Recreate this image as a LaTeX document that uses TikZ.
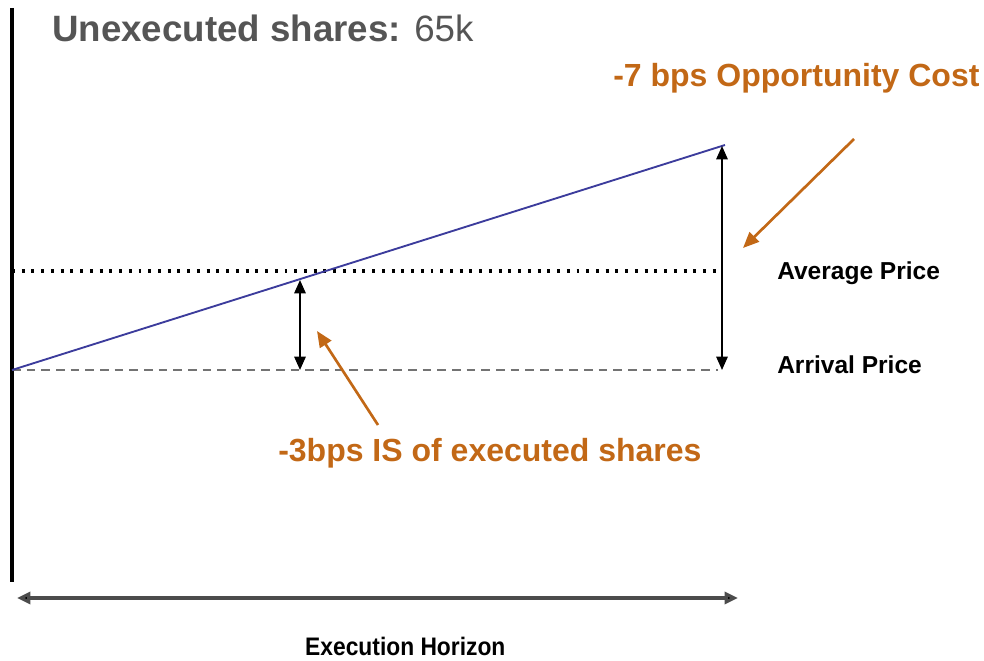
\documentclass[tikz,border=0pt]{standalone}
\usepackage{fontspec}
\setmainfont{Liberation Sans}
\usetikzlibrary{arrows.meta}
\definecolor{costorange}{HTML}{C26816}
\definecolor{titlegray}{HTML}{555555}
\definecolor{pathblue}{HTML}{3C3C9C}
\tikzset{
  lbl/.style={inner sep=0pt, anchor=base west},
  axisline/.style={line width=2.6pt, black},
  twoway/.style={line width=1.4pt, black, {Triangle[length=10pt,width=8.5pt]}-{Triangle[length=10pt,width=8.5pt]}},
  callout/.style={line width=2pt, costorange, -{Triangle[length=12pt,width=10pt]}},
  pricelbl/.style={lbl, font=\bfseries\fontsize{18.4}{20}\selectfont},
  costlbl/.style={lbl, text=costorange, font=\bfseries\fontsize{24}{28}\selectfont}
}
\begin{document}
\begin{tikzpicture}[x=0.75pt,y=-0.75pt]
\useasboundingbox (0,0) rectangle (984,660);

% price axis
\coordinate (axtop) at (12,8);
\coordinate (axbot) at (12,582);
\draw[axisline] (axtop) -- (axbot);

% reference price levels
\coordinate (avgL) at (12,271);
\coordinate (avgR) at (718,271);
\coordinate (arrL) at (12,370);
\coordinate (arrR) at (718,370);
\draw[line width=2.3pt, black, dash pattern=on 2.2pt off 5.1pt] (avgL) -- (avgR);
\draw[line width=1.8pt, black!55, dash pattern=on 6.5pt off 4.5pt] (arrL) -- (arrR);

% execution price path
\coordinate (pathS) at (12,370);
\coordinate (pathE) at (725,145);
\draw[line width=1.4pt, pathblue] (pathS) -- (pathE);

% cost spans
\coordinate (bigT) at (722,146);
\coordinate (bigB) at (722,370);
\draw[twoway] (bigT) -- (bigB);
\coordinate (smT) at (300,280);
\coordinate (smB) at (300,370);
\draw[twoway] (smT) -- (smB);

% execution horizon
\coordinate (horL) at (17,598);
\coordinate (horR) at (738,598);
\draw[line width=2.4pt, black!70, {Triangle[length=10pt,width=9pt,fill=black]}-{Triangle[length=10pt,width=9pt,fill=black]}] (horL) -- (horR);

% labels
\node[lbl, text=titlegray, font=\fontsize{27.5}{32}\selectfont] (title) at (52,42) {\textbf{Unexecuted shares:} 65k};
\node[costlbl] (opp) at (613,86) {-7 bps Opportunity Cost};
\node[costlbl] (isx) at (278,461) {-3bps IS of executed shares};
\node[pricelbl] (avg) at (777,279) {Average Price};
\node[pricelbl] (arr) at (777,373) {Arrival Price};
\node[lbl, font=\bfseries\fontsize{19}{22}\selectfont, xscale=0.9] (hor) at (305,655) {Execution Horizon};

% callout arrows
\coordinate (oppTail) at (854,139);
\coordinate (oppTip) at (743,248);
\draw[callout] (oppTail) -- (oppTip);
\coordinate (isTail) at (378,425);
\coordinate (isTip) at (317,331);
\draw[callout] (isTail) -- (isTip);
\end{tikzpicture}
\end{document}
